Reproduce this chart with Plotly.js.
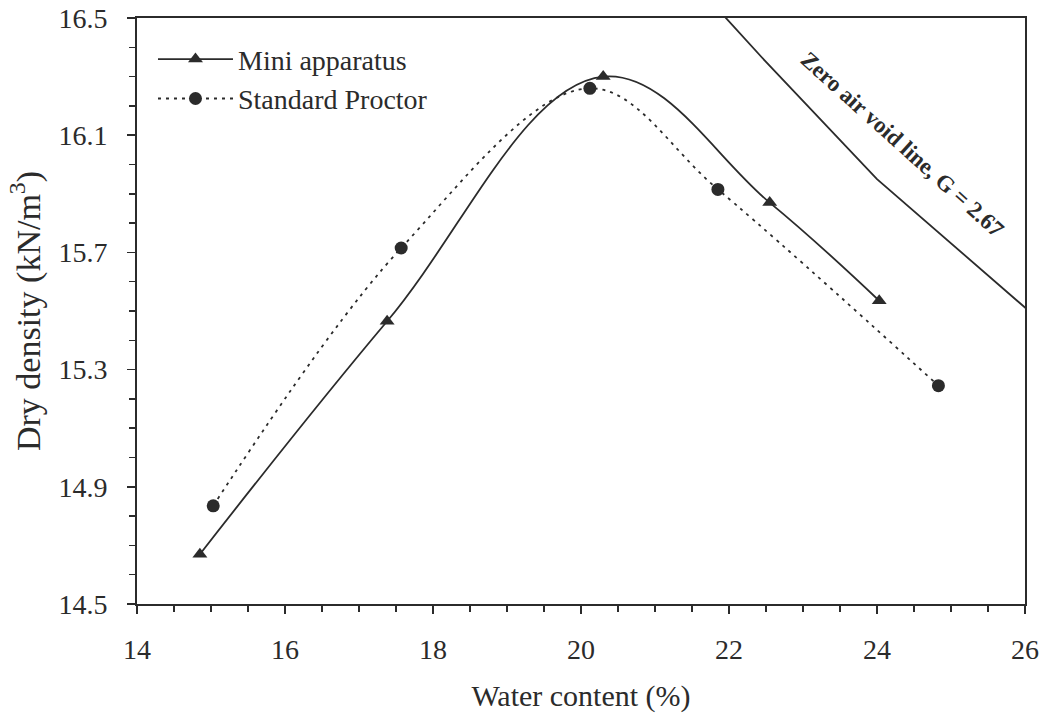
<!DOCTYPE html>
<html>
<head>
<meta charset="utf-8">
<script src="https://cdn.plot.ly/plotly-3.0.1.min.js"></script>
<style>html,body{margin:0;padding:0;background:#fff;}#chart{width:1040px;height:717px;}</style>
</head>
<body>
<div id="chart"></div>
<script>
const miniWater = [14.85, 17.38, 20.3, 22.55, 24.03];
const miniDensity = [14.67, 15.465, 16.30, 15.87, 15.535];
const stdWater = [15.03, 17.57, 20.12, 21.85, 24.83];
const stdDensity = [14.835, 15.715, 16.26, 15.915, 15.245];
const zavWater = [21.85, 22.5, 24.0, 26.1];
const zavDensity = [16.53, 16.35, 15.95, 15.49];
const xTicks = [14, 16, 18, 20, 22, 24, 26];
const yTicks = [14.5, 14.9, 15.3, 15.7, 16.1, 16.5];

const ink = '#2b2b2b';
const font = 'Liberation Serif, Times New Roman, serif';

const traces = [
  {x: miniWater, y: miniDensity, name: 'Mini apparatus', mode: 'lines+markers',
   line: {color: ink, width: 1.8, shape: 'spline', smoothing: 1.1},
   marker: {symbol: 'triangle-up', size: 13, color: ink}},
  {x: stdWater, y: stdDensity, name: 'Standard Proctor', mode: 'lines+markers',
   line: {color: ink, width: 1.8, shape: 'spline', smoothing: 1.0, dash: '3px,5px'},
   marker: {symbol: 'circle', size: 13, color: ink}},
  {x: zavWater, y: zavDensity, name: 'ZAV', mode: 'lines', showlegend: false,
   line: {color: ink, width: 1.8}}
];

const layout = {
  width: 1040, height: 717,
  margin: {l: 137, r: 15, t: 18, b: 113},
  paper_bgcolor: '#fff', plot_bgcolor: '#fff',
  font: {family: font, size: 26, color: ink},
  showlegend: true,
  legend: {x: 0.018, y: 0.972, xanchor: 'left', yanchor: 'top', bgcolor: 'rgba(0,0,0,0)',
           itemwidth: 75, font: {family: font, size: 28, color: ink}, tracegroupgap: 0},
  xaxis: {range: [14, 26], tickvals: xTicks, ticktext: xTicks.map(String),
          ticks: 'outside', ticklen: 8, tickwidth: 1.5, tickcolor: ink,
          minor: {dtick: 0.5, ticks: 'outside', ticklen: 6, tickwidth: 1.5, tickcolor: ink},
          showline: true, linecolor: ink, linewidth: 1.8, mirror: true,
          showgrid: false, zeroline: false,
          tickfont: {family: font, size: 28, color: ink}, ticklabelstandoff: 12,
          title: {text: 'Water content (%)', font: {family: font, size: 30, color: ink}, standoff: 20}},
  yaxis: {range: [14.5, 16.5], tickvals: yTicks, ticktext: yTicks.map(v => v.toFixed(1)),
          ticks: 'outside', ticklen: 8, tickwidth: 1.5, tickcolor: ink,
          minor: {dtick: 0.1, ticks: 'outside', ticklen: 6, tickwidth: 1.5, tickcolor: ink},
          showline: true, linecolor: ink, linewidth: 1.8, mirror: true,
          showgrid: false, zeroline: false,
          tickfont: {family: font, size: 28, color: ink}, ticklabelstandoff: 14,
          title: {text: 'Dry density (kN/m<sup>3</sup>)', font: {family: font, size: 34, color: ink}, standoff: 8}},
  annotations: [{
    x: 24.34, y: 16.067, xref: 'x', yref: 'y', text: '<b>Zero air void line, G = 2.67</b>',
    showarrow: false, textangle: 42, font: {family: font, size: 23, color: ink}
  }]
};

Plotly.newPlot('chart', traces, layout, {displayModeBar: false, staticPlot: true});
</script>
</body>
</html>
